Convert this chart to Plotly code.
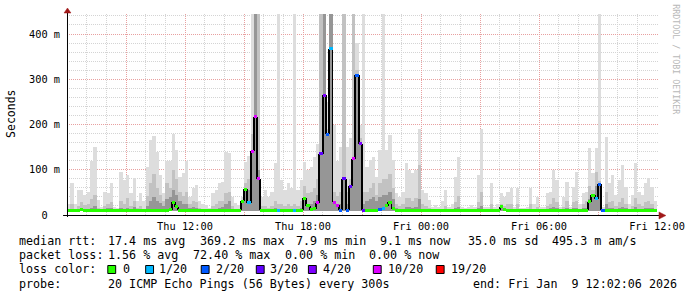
import plotly.graph_objects as go
from datetime import datetime, timedelta

# ---------------- data ----------------
START = datetime(2026, 1, 8, 6, 0)          # Thu 06:00
BIN_MINUTES = 10

smoke_top = [
    25, 70, 25, 55, 55, 45, 50, 120, 150, 33,
    18, 50, 48, 70, 18, 15, 95, 77, 88, 48,
    81, 30, 48, 30, 107, 166, 175, 140, 88, 48,
    120, 120, 180, 144, 85, 92, 120, 40, 60, 66,
    30, 25, 22, 15, 48, 55, 70, 74, 140, 136,
    40, 26, 22, 40, 118, 130, 445, 445, 445, 40,
    55, 40, 50, 114, 445, 77, 55, 70, 60, 445,
    55, 77, 118, 100, 107, 129, 158, 445, 445, 250,
    445, 200, 120, 150, 445, 150, 170, 445, 380, 200,
    445, 107, 121, 129, 85, 144, 445, 144, 176, 121,
    48, 40, 51, 114, 99, 92, 99, 191, 55, 48,
    33, 18, 22, 18, 30, 55, 18, 25, 85, 129,
    18, 15, 18, 22, 18, 88, 191, 18, 18, 70,
    18, 25, 48, 40, 50, 59, 18, 59, 15, 15,
    18, 59, 25, 40, 18, 18, 48, 51, 99, 77,
    18, 40, 74, 18, 62, 96, 25, 48, 51, 147,
    92, 147, 445, 18, 173, 70, 88, 45, 77, 110,
    62, 25, 44, 114, 51, 44, 70, 81, 62, 30,
]
smoke_mid = [
    10, 25, 10, 20, 28, 22, 25, 35, 45, 15,
    10, 20, 25, 28, 10, 10, 32, 25, 38, 20,
    32, 15, 20, 14, 42, 70, 90, 60, 45, 30,
    70, 60, 100, 80, 50, 42, 50, 25, 30, 28,
    15, 12, 10, 10, 20, 25, 30, 32, 48, 50,
    20, 12, 10, 32, 70, 80, 180, 445, 445, 20,
    20, 15, 20, 32, 25, 25, 20, 25, 20, 25,
    20, 32, 65, 48, 50, 60, 80, 445, 445, 190,
    445, 50, 42, 50, 445, 50, 80, 445, 320, 170,
    50, 50, 60, 70, 45, 70, 80, 80, 90, 60,
    25, 20, 25, 38, 38, 32, 38, 110, 25, 20,
    15, 10, 10, 10, 14, 20, 10, 12, 28, 42,
    10, 10, 10, 10, 10, 28, 50, 10, 10, 25,
    10, 14, 25, 20, 25, 25, 10, 25, 10, 10,
    10, 25, 12, 18, 10, 10, 20, 25, 38, 28,
    10, 18, 32, 10, 28, 32, 12, 25, 30, 65,
    55, 95, 75, 10, 50, 28, 32, 20, 28, 38,
    25, 12, 20, 38, 25, 20, 28, 32, 25, 14,
]
smoke_dark = [
    10, 14, 10, 12, 15, 12, 14, 16, 20, 10,
    10, 12, 15, 16, 10, 10, 16, 14, 16, 12,
    18, 10, 12, 10, 20, 30, 40, 30, 26, 20,
    35, 40, 55, 45, 30, 25, 25, 16, 18, 15,
    10, 10, 10, 10, 12, 14, 16, 18, 25, 30,
    14, 10, 10, 30, 57, 55, 140, 445, 100, 12,
    12, 10, 12, 16, 12, 14, 12, 14, 12, 12,
    12, 16, 37, 25, 25, 30, 45, 140, 445, 180,
    445, 30, 22, 25, 85, 25, 63, 125, 310, 158,
    25, 30, 35, 40, 30, 40, 45, 45, 50, 35,
    16, 12, 14, 18, 18, 16, 18, 35, 14, 12,
    10, 10, 10, 10, 10, 12, 10, 10, 15, 18,
    10, 10, 10, 10, 10, 15, 20, 10, 10, 13,
    10, 10, 18, 14, 14, 14, 10, 14, 10, 10,
    10, 13, 10, 11, 10, 10, 12, 15, 18, 15,
    10, 11, 16, 10, 15, 16, 10, 15, 16, 35,
    44, 65, 68, 10, 25, 15, 16, 12, 15, 18,
    15, 10, 12, 18, 13, 12, 15, 16, 15, 10,
]
median_ms = [
    10, 10, 11, 10, 12, 10, 10, 9, 10, 10,
    10, 10, 11, 10, 10, 10, 10, 10, 10, 11,
    10, 10, 10, 10, 11, 10, 10, 10, 11, 10,
    10, 12, 28, 18, 11, 10, 10, 10, 10, 10,
    10, 10, 9, 10, 10, 10, 10, 10, 11, 10,
    10, 10, 10, 30, 57, 27, 141, 217, 80, 10,
    10, 10, 10, 10, 10, 10, 11, 10, 10, 10,
    10, 11, 37, 20, 12, 14, 27, 135, 265, 179,
    367, 28, 22, 10, 80, 10, 63, 124, 309, 157,
    10, 10, 10, 11, 10, 12, 14, 20, 28, 14,
    10, 10, 10, 10, 10, 10, 10, 11, 10, 10,
    10, 10, 10, 10, 10, 10, 10, 10, 10, 11,
    10, 10, 10, 10, 10, 10, 10, 10, 10, 10,
    10, 10, 18, 12, 10, 10, 10, 10, 10, 10,
    10, 10, 10, 10, 10, 10, 10, 10, 11, 10,
    10, 10, 10, 10, 10, 11, 10, 10, 10, 29,
    44, 36, 68, 10, 10, 10, 10, 10, 10, 10,
    10, 10, 10, 10, 10, 10, 10, 10, 10, 10,
]
loss_of_20 = [
    0, 0, 0, 0, 0, 0, 0, 0, 0, 0,
    0, 0, 0, 0, 0, 0, 0, 0, 0, 0,
    0, 0, 0, 0, 0, 0, 0, 0, 0, 0,
    0, 0, 0, 0, 0, 0, 0, 0, 0, 0,
    0, 0, 0, 0, 0, 0, 0, 0, 0, 0,
    0, 0, 0, 0, 0, 1, 10, 10, 10, 0,
    0, 0, 0, 0, 1, 0, 0, 0, 0, 1,
    0, 0, 0, 0, 0, 0, 10, 3, 4, 2,
    1, 10, 10, 2, 3, 2, 3, 10, 2, 4,
    3, 0, 0, 0, 0, 2, 1, 0, 0, 0,
    0, 0, 0, 0, 0, 0, 0, 0, 0, 0,
    0, 0, 0, 0, 0, 0, 0, 0, 0, 0,
    0, 0, 0, 0, 0, 0, 0, 0, 0, 0,
    0, 0, 0, 0, 0, 0, 0, 0, 0, 0,
    0, 0, 0, 0, 0, 0, 0, 0, 0, 0,
    0, 0, 0, 0, 0, 0, 0, 0, 0, 0,
    0, 1, 2, 2, 0, 0, 0, 0, 0, 0,
    0, 0, 0, 0, 0, 0, 0, 0, 0, 0,
]

loss_levels = [0, 1, 2, 3, 4, 10, 19]
loss_labels = ["0", "1/20", "2/20", "3/20", "4/20", "10/20", "19/20"]
loss_colors = ["#26ff00", "#00b8ff", "#0059ff", "#5e00ff", "#7e00ff", "#dd00ff", "#ff0000"]

y_tick_vals = [0, 100, 200, 300, 400]
y_tick_text = ["0\u00a0\u00a0", "100 m", "200 m", "300 m", "400 m"]
x_tick_hours = [3, 6, 9, 12, 15, 18, 21, 24, 27, 30]
x_tick_text = ["", "Thu 12:00", "", "Thu 18:00", "", "Fri 00:00", "", "Fri 06:00", "", "Fri 12:00"]

legend_rows = [
    ["median rtt:", "17.4 ms avg", "369.2 ms max", "7.9 ms min", "9.1 ms now", "35.0 ms sd", "495.3 m am/s"],
    ["packet loss:", "1.56 % avg", "72.40 % max", "0.00 % min", "0.00 % now"],
]
probe_text = "20 ICMP Echo Pings (56 Bytes) every 300s"
end_text = "end: Fri Jan  9 12:02:06 2026"

# ---------------- layout helpers ----------------
W, H = 697, 297
L, R, T, B = 67, 29, 14, 82
PW, PH = W - L - R, H - T - B
Y_MAX = 444.2
MONO = "DejaVu Sans Mono"


def fx(px):
    return (px - L) / PW


def fy(py):
    return (H - B - py) / PH


def nb(s):
    return s.replace(" ", "\u00a0")


def color_for_loss(l):
    c = loss_colors[0]
    for lv, col in zip(loss_levels, loss_colors):
        if l >= lv:
            c = col
    return c


n = len(median_ms)
bin_ms = BIN_MINUTES * 60 * 1000
px_ms = 3 * 60 * 1000                      # one pixel of time
xs = [START + timedelta(minutes=BIN_MINUTES * i) for i in range(n)]
SMOKE_BASE = 9
THICK = 3 * Y_MAX / PH                      # 3 px in data units

fig = go.Figure()
for arr, col in [(smoke_top, "#dddddd"), (smoke_mid, "#c2c2c2"), (smoke_dark, "#969696")]:
    fig.add_trace(go.Bar(
        x=xs, y=[max(v - SMOKE_BASE, 0) for v in arr], base=SMOKE_BASE,
        width=bin_ms, offset=0, marker=dict(color=col, line=dict(width=0)),
        hoverinfo="skip", showlegend=False))

# black vertical connectors of the median step line
cx, cb, ch = [], [], []
for i in range(1, n):
    lo, hi = min(median_ms[i - 1], median_ms[i]), max(median_ms[i - 1], median_ms[i])
    if hi - lo > THICK:
        cx.append(xs[i])
        cb.append(lo)
        ch.append(hi - lo)
fig.add_trace(go.Bar(
    x=cx, y=ch, base=cb, width=px_ms, offset=-px_ms / 2,
    marker=dict(color="#000000", line=dict(width=0)),
    hoverinfo="skip", showlegend=False))

# median segments coloured by loss (3 px thick)
fig.add_trace(go.Bar(
    x=xs, y=[THICK] * n, base=[m - THICK / 2 for m in median_ms],
    width=bin_ms, offset=0,
    marker=dict(color=[color_for_loss(l) for l in loss_of_20], line=dict(width=0)),
    hoverinfo="skip", showlegend=False))

x_end = START + timedelta(minutes=1803)
fig.update_layout(
    width=W, height=H, margin=dict(l=L, r=R, t=T, b=B),
    paper_bgcolor="#ffffff", plot_bgcolor="#ffffff",
    barmode="overlay", bargap=0, showlegend=False,
    font=dict(family=MONO, size=10.3, color="#000000"),
    xaxis=dict(
        type="date", range=[START, x_end],
        tickmode="array",
        tickvals=[START + timedelta(hours=h) for h in x_tick_hours],
        ticktext=x_tick_text, ticks="", ticklabelstandoff=4,
        showgrid=True, gridcolor="#e8a0a0", griddash="1px,1px", gridwidth=1,
        minor=dict(tickmode="linear", tick0=START, dtick=3600000, showgrid=True,
                   gridcolor="#d4d4d4", griddash="1px,1px", gridwidth=1, ticks=""),
        zeroline=False, showline=False, fixedrange=True,
        tickfont=dict(family=MONO, size=10.3, color="#000000"),
    ),
    yaxis=dict(
        range=[0, Y_MAX], tickmode="array", tickvals=y_tick_vals, ticktext=y_tick_text,
        ticks="", ticklabelstandoff=6,
        showgrid=True, gridcolor="#e8a0a0", griddash="1px,1px", gridwidth=1,
        minor=dict(tickmode="linear", tick0=0, dtick=20, showgrid=True,
                   gridcolor="#d4d4d4", griddash="1px,1px", gridwidth=1, ticks=""),
        zeroline=False, showline=False, fixedrange=True,
        tickfont=dict(family=MONO, size=10.3, color="#000000"),
    ),
)

shapes = []
# axis lines
shapes.append(dict(type="line", xref="paper", yref="paper", x0=fx(63), x1=fx(669),
                   y0=fy(215.5), y1=fy(215.5), line=dict(color="#000000", width=1), layer="above"))
shapes.append(dict(type="line", xref="paper", yref="paper", x0=fx(67.5), x1=fx(67.5),
                   y0=fy(217), y1=fy(12), line=dict(color="#000000", width=1), layer="above"))


def tri(pts):
    return "M " + " L ".join(f"{fx(a):.5f},{fy(b):.5f}" for a, b in pts) + " Z"


shapes.append(dict(type="path", xref="paper", yref="paper",
                   path=tri([(669, 212), (676, 215.5), (669, 219)]),
                   fillcolor="#a01818", line=dict(color="#a01818", width=0.5), layer="above"))
shapes.append(dict(type="path", xref="paper", yref="paper",
                   path=tri([(64, 13), (67.5, 8), (71, 13)]),
                   fillcolor="#a01818", line=dict(color="#a01818", width=0.5), layer="above"))

annotations = []
LEG_FONT = dict(family=MONO, size=11.7, color="#000000")


def add_text(txt, px, py):
    annotations.append(dict(text=nb(txt), xref="paper", yref="paper", x=fx(px), y=fy(py),
                            xanchor="left", yanchor="middle", showarrow=False, font=LEG_FONT))


row1_x = [16, 107, 200, 298, 383, 473, 558]
for t, px in zip(legend_rows[0], row1_x):
    add_text(t, px, 241)
row2_x = [16, 107, 193, 287, 372]
for t, px in zip(legend_rows[1], row2_x):
    add_text(t, px, 255)
add_text("loss color:", 16, 269)
sq_x = [108, 146.5, 203, 259, 312, 378, 442]
lab_x = [121.5, 159, 216.5, 271.5, 325, 391.5, 455]
for lab, col, sx, lx in zip(loss_labels, loss_colors, sq_x, lab_x):
    shapes.append(dict(type="rect", xref="paper", yref="paper", x0=fx(sx + 0.5), x1=fx(sx + 8.5),
                       y0=fy(273.5), y1=fy(265.5), fillcolor=col,
                       line=dict(color="#000000", width=1), layer="above"))
    add_text(lab, lx, 269)
add_text("probe:", 16, 283.5)
add_text(probe_text, 107, 283.5)
add_text(end_text, 478, 283.5)

annotations.append(dict(text="Seconds", xref="paper", yref="paper", x=fx(10), y=fy(114),
                        textangle=-90, showarrow=False, xanchor="center", yanchor="middle",
                        font=dict(family=MONO, size=11.5, color="#000000")))
annotations.append(dict(text=nb("RRDTOOL / TOBI OETIKER"), xref="paper", yref="paper",
                        x=fx(686), y=fy(59), textangle=90, showarrow=False,
                        xanchor="center", yanchor="middle",
                        font=dict(family=MONO, size=8.3, color="#b8b8b8")))

fig.update_layout(shapes=shapes, annotations=annotations)
fig.write_html("out.html", include_plotlyjs=True, config={"displayModeBar": False})
